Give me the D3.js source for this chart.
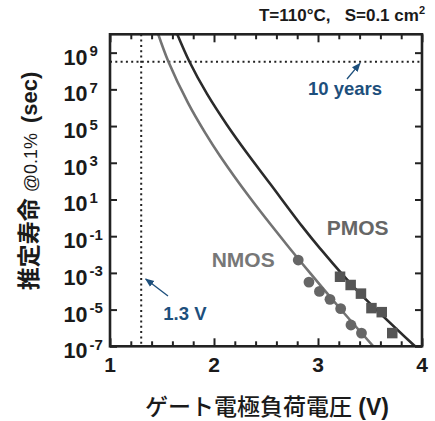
<!DOCTYPE html>
<html>
<head>
<meta charset="utf-8">
<script src="https://cdn.jsdelivr.net/npm/d3@7"></script>
<style>
  html, body { margin: 0; padding: 0; background: #fff; }
  svg { display: block; }
  text { font-family: "Liberation Sans", Arial, sans-serif; }
</style>
</head>
<body>
<div id="chart"></div>
<script>
// ---- data (lifetime as log10 seconds) ----
const nmosCurveV   = [1.464, 1.561, 1.750, 1.914, 2.058, 2.346, 2.702, 2.933, 3.212, 3.532];
const nmosCurveLog = [10.0, 8.52, 6.26, 4.64, 3.37, 1.09, -1.48, -3.07, -4.94, -7.0];
const pmosCurveV   = [1.647, 1.763, 1.933, 2.125, 2.317, 2.538, 2.846, 3.019, 3.356, 3.933];
const pmosCurveLog = [10.0, 8.52, 6.75, 5.06, 3.53, 1.87, -0.45, -1.66, -3.84, -7.0];
const nmosPointV   = [2.81, 2.913, 3.014, 3.115, 3.218, 3.317, 3.418];
const nmosPointLog = [-2.30, -3.50, -4.01, -4.44, -4.95, -5.84, -6.28];
const pmosPointV   = [3.212, 3.314, 3.413, 3.514, 3.613, 3.714];
const pmosPointLog = [-3.21, -3.66, -4.13, -4.92, -5.14, -6.28];
const xMajorTicks = [1, 2, 3, 4];
const yTickExp = [-7, -5, -3, -1, 1, 3, 5, 7, 9];
const tenYearsSec = 3.156e8;
const opVoltage = 1.3;

const W = 435, H = 421;
const L = 110, R = 422, T = 34.3, B = 346.3;

const svg = d3.select("#chart").append("svg").attr("width", W).attr("height", H);

const x = d3.scaleLinear().domain([1, 4]).range([L, R]);
const y = d3.scaleLog().domain([1e-7, 1e10]).range([B, T]);

svg.append("clipPath").attr("id", "plotclip")
  .append("rect").attr("x", L).attr("y", T).attr("width", R - L).attr("height", B - T);

const minorX = d3.range(10, 41, 2).map(d => d / 10).filter(v => !xMajorTicks.includes(v));
const yTicks = yTickExp.map(e => Math.pow(10, e));

// reference dotted lines
svg.append("line")
  .attr("x1", L).attr("x2", R).attr("y1", y(tenYearsSec)).attr("y2", y(tenYearsSec))
  .attr("stroke", "#222").attr("stroke-width", 2).attr("stroke-dasharray", "2,3.3");
svg.append("line")
  .attr("x1", x(opVoltage)).attr("x2", x(opVoltage)).attr("y1", T).attr("y2", B)
  .attr("stroke", "#222").attr("stroke-width", 2).attr("stroke-dasharray", "2,3.3");

// curves
const line = d3.line().x(d => x(d[0])).y(d => y(Math.pow(10, d[1]))).curve(d3.curveCatmullRom.alpha(0.5));
const g = svg.append("g").attr("clip-path", "url(#plotclip)");
g.append("path").datum(nmosCurveV.map((v, i) => [v, nmosCurveLog[i]]))
  .attr("d", line).attr("fill", "none").attr("stroke", "#737373").attr("stroke-width", 2.6);
g.append("path").datum(pmosCurveV.map((v, i) => [v, pmosCurveLog[i]]))
  .attr("d", line).attr("fill", "none").attr("stroke", "#2b2b2b").attr("stroke-width", 2.6);

// markers
svg.append("g").selectAll("circle")
  .data(nmosPointV.map((v, i) => [v, nmosPointLog[i]]))
  .join("circle")
  .attr("cx", d => x(d[0])).attr("cy", d => y(Math.pow(10, d[1])))
  .attr("r", 5.4).attr("fill", "#666");
const sq = 10.5;
svg.append("g").selectAll("rect")
  .data(pmosPointV.map((v, i) => [v, pmosPointLog[i]]))
  .join("rect")
  .attr("x", d => x(d[0]) - sq / 2).attr("y", d => y(Math.pow(10, d[1])) - sq / 2)
  .attr("width", sq).attr("height", sq).attr("fill", "#555");

// axes (ticks inward)
function styleAxis(sel) {
  sel.select(".domain").remove();
  sel.selectAll("line").attr("stroke", "#222").attr("stroke-width", 2);
  sel.selectAll("text").remove();
}
svg.append("g").attr("transform", `translate(0,${B})`)
  .call(d3.axisBottom(x).tickValues(xMajorTicks).tickSize(-8)).call(styleAxis);
svg.append("g").attr("transform", `translate(0,${B})`)
  .call(d3.axisBottom(x).tickValues(minorX).tickSize(-5)).call(styleAxis);
svg.append("g").attr("transform", `translate(0,${T})`)
  .call(d3.axisTop(x).tickValues(xMajorTicks).tickSize(-8)).call(styleAxis);
svg.append("g").attr("transform", `translate(0,${T})`)
  .call(d3.axisTop(x).tickValues(minorX).tickSize(-5)).call(styleAxis);
svg.append("g").attr("transform", `translate(${L},0)`)
  .call(d3.axisLeft(y).tickValues(yTicks).tickSize(-7)).call(styleAxis);
svg.append("g").attr("transform", `translate(${R},0)`)
  .call(d3.axisRight(y).tickValues(yTicks).tickSize(-7)).call(styleAxis);

// frame
svg.append("rect").attr("x", L).attr("y", T).attr("width", R - L).attr("height", B - T)
  .attr("fill", "none").attr("stroke", "#222").attr("stroke-width", 2.6);

// x tick labels
svg.append("g").selectAll("text").data(xMajorTicks).join("text")
  .attr("x", d => x(d)).attr("y", 372).attr("text-anchor", "middle")
  .attr("font-size", 21).attr("font-weight", "bold").attr("fill", "#1a1a1a")
  .text(d => d);

// y tick labels with superscripts
const yl = svg.append("g").selectAll("g").data(yTickExp).join("g");
yl.append("text")
  .attr("x", 87.5).attr("y", e => y(Math.pow(10, e)) + 12).attr("text-anchor", "end")
  .attr("font-size", 21.5).attr("font-weight", "bold").attr("fill", "#1a1a1a")
  .text("10");
yl.append("text")
  .attr("x", 89.5).attr("y", e => y(Math.pow(10, e)) + 3.5).attr("text-anchor", "start")
  .attr("font-size", 15).attr("font-weight", "bold").attr("fill", "#1a1a1a")
  .text(e => e < 0 ? "-" + Math.abs(e) : String(e));

// axis titles
svg.append("text")
  .attr("x", 267).attr("y", 415).attr("text-anchor", "middle")
  .attr("font-size", 23).attr("fill", "#1a1a1a")
  .call(t => {
    t.append("tspan").attr("font-family", "'Noto Sans CJK JP', sans-serif").attr("font-weight", 500).text("ゲート電極負荷電圧");
    t.append("tspan").attr("font-weight", "bold").text(" (V)");
  });

svg.append("text")
  .attr("transform", "translate(37,181) rotate(-90)").attr("text-anchor", "middle")
  .attr("fill", "#1a1a1a")
  .call(t => {
    t.append("tspan").attr("font-family", "'Noto Sans CJK JP', sans-serif").attr("font-weight", "bold").attr("font-size", 23).text("推定寿命");
    t.append("tspan").attr("font-size", 18).attr("dx", 6).text("@0.1%");
    t.append("tspan").attr("font-size", 22).attr("font-weight", "bold").attr("dx", 10).text("(sec)");
  });

// condition title
svg.append("text")
  .attr("x", 425).attr("y", 21).attr("text-anchor", "end")
  .attr("font-size", 17).attr("font-weight", "bold").attr("fill", "#1a1a1a")
  .attr("xml:space", "preserve").style("white-space", "pre")
  .call(t => {
    t.append("tspan").text("T=110°C,   S=0.1 cm");
    t.append("tspan").attr("font-size", 11).attr("dy", -7).text("2");
  });

// series labels
svg.append("text").attr("x", 211.7).attr("y", 266.7)
  .attr("font-size", 21).attr("font-weight", "bold").attr("fill", "#777").text("NMOS");
svg.append("text").attr("x", 326.7).attr("y", 235)
  .attr("font-size", 21).attr("font-weight", "bold").attr("fill", "#666").text("PMOS");

// annotations
const blue = "#1d4f7c";
const defs = svg.append("defs");
defs.append("marker").attr("id", "ah").attr("viewBox", "0 0 10 10")
  .attr("refX", 9).attr("refY", 5).attr("markerWidth", 7).attr("markerHeight", 7)
  .attr("orient", "auto").append("path").attr("d", "M0,1 L10,5 L0,9 Z").attr("fill", blue);

svg.append("line").attr("x1", 347).attr("y1", 79).attr("x2", 360).attr("y2", y(tenYearsSec) + 1.5)
  .attr("stroke", blue).attr("stroke-width", 1.3).attr("marker-end", "url(#ah)");
svg.append("text").attr("x", 308).attr("y", 95)
  .attr("font-size", 18.5).attr("font-weight", "bold").attr("fill", blue).text("10 years");

svg.append("line").attr("x1", 168).attr("y1", 296).attr("x2", x(opVoltage) + 4.5).attr("y2", 279)
  .attr("stroke", blue).attr("stroke-width", 1.3).attr("marker-end", "url(#ah)");
svg.append("text").attr("x", 163.3).attr("y", 320)
  .attr("font-size", 18.5).attr("font-weight", "bold").attr("fill", blue).text("1.3 V");
</script>
</body>
</html>
